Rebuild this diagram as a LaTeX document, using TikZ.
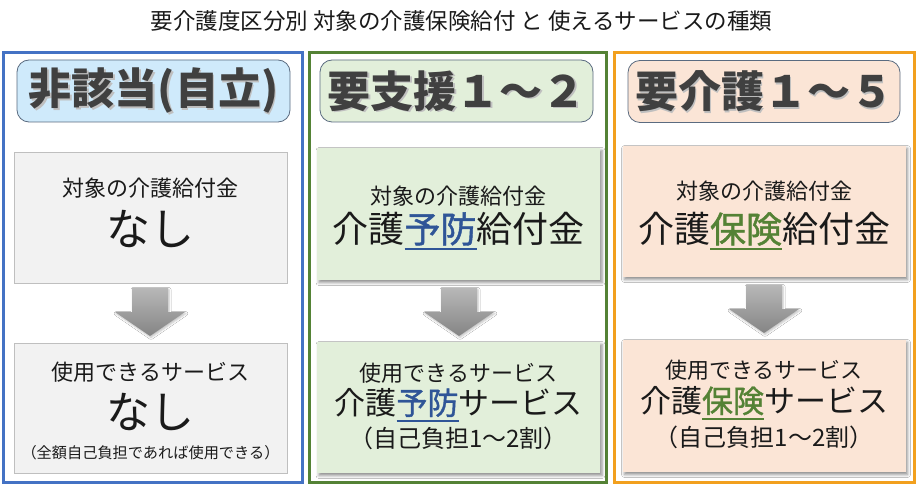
\documentclass[tikz,border=0pt]{standalone}
\usepackage{fontspec}
\setmainfont{Noto Sans CJK JP}
\newfontfamily\semibfont[FakeBold=1.2]{Noto Sans CJK JP}
\usetikzlibrary{shadows.blur}
\definecolor{cblue}{HTML}{4472C4}
\definecolor{cgreen}{HTML}{548235}
\definecolor{corange}{HTML}{F2A01E}
\definecolor{hblue}{HTML}{CFEAFB}
\definecolor{hgreen}{HTML}{E2EFDA}
\definecolor{horange}{HTML}{FBE5D6}
\definecolor{gboxfill}{HTML}{F2F2F2}
\definecolor{gline}{HTML}{BFBFBF}
\definecolor{hline}{HTML}{5A6B80}
\definecolor{htext}{HTML}{404040}
\definecolor{ink}{HTML}{1A1A1A}
\definecolor{ublue}{HTML}{2F5597}
\definecolor{ugreen}{HTML}{548235}
\newcommand\fsz[1]{\fontsize{#1}{#1}\selectfont}
\newcommand\ulx[2]{{\color{#1}\semibfont\sbox0{#2}\rlap{\rule[-7pt]{\wd0}{2pt}}\usebox0}}
\begin{document}
\begin{tikzpicture}[x=1pt,y=-1pt,
  outerbox/.style={draw, line width=3pt, inner sep=0pt, minimum width=#1, minimum height=429pt},
  hdr/.style={draw=hline, line width=0.8pt, rounded corners=12pt, inner sep=0pt, minimum height=62pt, minimum width=#1},
  htxt/.style={text=htext, font=\fsz{43}\bfseries, inner sep=0pt},
  hshad/.style={text=black!25, font=\fsz{43}\bfseries, inner sep=0pt, xshift=1.5pt, yshift=-1.5pt},
  graybox/.style={draw=gline, line width=0.8pt, fill=gboxfill, inner sep=0pt, minimum width=273pt, minimum height=#1},
  shbox/.style={inner sep=0pt, minimum width=283pt, minimum height=#1,
     blur shadow={shadow xshift=2pt, shadow yshift=-2.5pt, shadow blur radius=3pt, shadow opacity=45}},
  smalltxt/.style={text=ink, font=\fsz{22}, inner sep=0pt},
  bigtxt/.style={text=ink, font=\fsz{#1}, inner sep=0pt},
  arrowsty/.style={top color=black!28, bottom color=black!48, draw=none,
     blur shadow={shadow xshift=1pt, shadow yshift=-1.5pt, shadow blur radius=2pt, shadow opacity=25}}
]
\useasboundingbox (0,0) rectangle (923,489);
\fill[white] (0,0) rectangle (923,489);

\node[text=ink, font=\fsz{22.5}, inner sep=0pt] (title) at (461.5,21) {要介護度区分別 対象の介護保険給付 と 使えるサービスの種類};

% outer frames
\node[outerbox=299pt, draw=cblue] (colA) at (152.5,267.5) {};
\node[outerbox=297pt, draw=cgreen] (colB) at (457.5,267.5) {};
\node[outerbox=300pt, draw=corange] (colC) at (764,267.5) {};

% headers
\node[hdr=273pt, fill=hblue] (hA) at (153.5,91) {};
\node[hshad] (hAs) at (hA) {非該当(自立)};
\node[htxt] (hAt) at (hA) {非該当(自立)};
\node[hdr=273pt, fill=hgreen] (hB) at (456.5,91) {};
\node[hshad] (hBs) at (hB) {要支援１～２};
\node[htxt] (hBt) at (hB) {要支援１～２};
\node[hdr=272pt, fill=horange] (hC) at (764,91.5) {};
\node[hshad] (hCs) at (hC) {要介護１～５};
\node[htxt] (hCt) at (hC) {要介護１～５};

% column A
\node[graybox=131pt] (tA) at (150.5,217.5) {};
\node[smalltxt] (tA1) at (150.5,188) {対象の介護給付金};
\node[bigtxt=44] (tA2) at (150.5,229) {なし};
\node[graybox=130pt] (bA) at (150.5,408) {};
\node[smalltxt] (bA1) at (150.5,372) {使用できるサービス};
\node[bigtxt=44] (bA2) at (150.5,412) {なし};
\node[bigtxt=15.2] (bA3) at (150.5,453) {（全額自己負担であれば使用できる）};

% column B
\node[shbox=132pt, fill=hgreen] (tB) at (458.5,214) {};
\node[smalltxt] (tB1) at (458.5,196) {対象の介護給付金};
\node[bigtxt=36] (tB2) at (458.5,231) {介護\ulx{ublue}{予防}給付金};
\node[shbox=131pt, fill=hgreen] (bB) at (458.5,407.5) {};
\node[smalltxt] (bB1) at (458.5,373) {使用できるサービス};
\node[bigtxt=31] (bB2) at (458.5,405) {介護\ulx{ublue}{予防}サービス};
\node[bigtxt=24] (bB3) at (458.5,438) {（自己負担1～2割）};

% column C
\node[shbox=131pt, fill=horange] (tC) at (764,211.5) {};
\node[smalltxt] (tC1) at (764,191) {対象の介護給付金};
\node[bigtxt=36] (tC2) at (764,231) {介護\ulx{ugreen}{保険}給付金};
\node[shbox=132pt, fill=horange] (bC) at (764,406) {};
\node[smalltxt] (bC1) at (764,370) {使用できるサービス};
\node[bigtxt=31] (bC2) at (764,403) {介護\ulx{ugreen}{保険}サービス};
\node[bigtxt=24] (bC3) at (764,437) {（自己負担1～2割）};

% block arrows
\coordinate (aA) at (150,288);
\coordinate (aB) at (459,288);
\coordinate (aC) at (764,285);
\foreach \c in {aA,aB,aC}{
  \path[arrowsty, shift={(\c)}] (-18,0) -- (18,0) -- (18,24) -- (35,24) -- (0,48) -- (-35,24) -- (-18,24) -- cycle;
}
\end{tikzpicture}
\end{document}
